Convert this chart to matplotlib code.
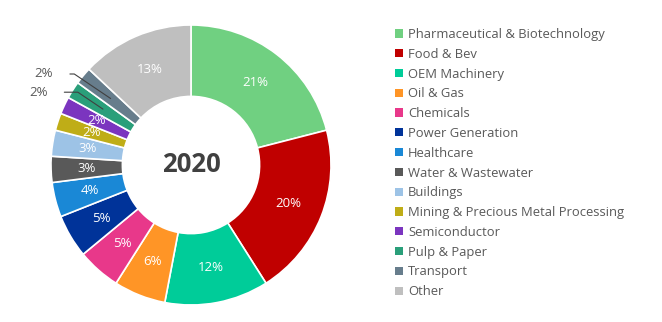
import numpy as np
import matplotlib.pyplot as plt
from matplotlib.patches import Patch

plt.rcParams['font.family'] = ['Open Sans', 'DejaVu Sans']

sectors = ['Pharmaceutical & Biotechnology', 'Food & Bev', 'OEM Machinery', 'Oil & Gas',
           'Chemicals', 'Power Generation', 'Healthcare', 'Water & Wastewater', 'Buildings',
           'Mining & Precious Metal Processing', 'Semiconductor', 'Pulp & Paper',
           'Transport', 'Other']
shares = [21, 20, 12, 6, 5, 5, 4, 3, 3, 2, 2, 2, 2, 13]
colors = ['#70D081', '#C00000', '#00CC99', '#FF9526', '#E8388A', '#003399', '#1A88D6',
          '#595959', '#9DC3E6', '#BFAD17', '#7B35BF', '#2A9F7A', '#677D8C', '#BFBFBF']
year = '2020'

W, H = 662, 322
cx, cy, R = 191, 165, 140  # pie centre / radius in pixels
inner = 0.49
fig = plt.figure(figsize=(W / 100, H / 100), dpi=100)
ax = fig.add_axes([0, 0, 1, 1])

wedges, _ = ax.pie(shares, colors=colors, startangle=90, counterclock=False,
                   radius=1, wedgeprops=dict(width=1 - inner, edgecolor='white', linewidth=1.2))
ax.set_xlim(-cx / R, (W - cx) / R)
ax.set_ylim(-(H - cy) / R, cy / R)
ax.set_aspect('equal')
ax.axis('off')

mid_r = (1 + inner) / 2
outside = {'Pulp & Paper': (-1.09, 0.52), 'Transport': (-1.05, 0.65)}
for w, name, v in zip(wedges, sectors, shares):
    ang = np.deg2rad((w.theta1 + w.theta2) / 2)
    x, y = mid_r * np.cos(ang), mid_r * np.sin(ang)
    if name in outside:
        tx, ty = outside[name]
        ax.annotate(f'{v}%', xy=(x, y), xytext=(tx, ty), ha='center', va='center',
                    fontsize=9.5, color='#595959',
                    arrowprops=dict(arrowstyle='-', color='#404040', lw=0.8,
                                    shrinkA=10, shrinkB=0,
                                    connectionstyle='angle,angleA=0,angleB=-34,rad=0'))
    else:
        ax.text(x, y, f'{v}%', ha='center', va='center', fontsize=9.5, color='white')

ax.text(0, 0, year, ha='center', va='center', fontsize=18.5, fontweight='bold', color='#404040')

handles = [Patch(facecolor=c, edgecolor='none') for c in colors]
fig.legend(handles, sectors, loc='upper left', bbox_to_anchor=(395 / W, 1 - 28 / H),
           frameon=False, fontsize=9.4, labelcolor='#595959', handlelength=0.6,
           handleheight=0.6, handletextpad=0.4, labelspacing=0.52, borderpad=0,
           borderaxespad=0)

fig.savefig('out.png', dpi=100)
